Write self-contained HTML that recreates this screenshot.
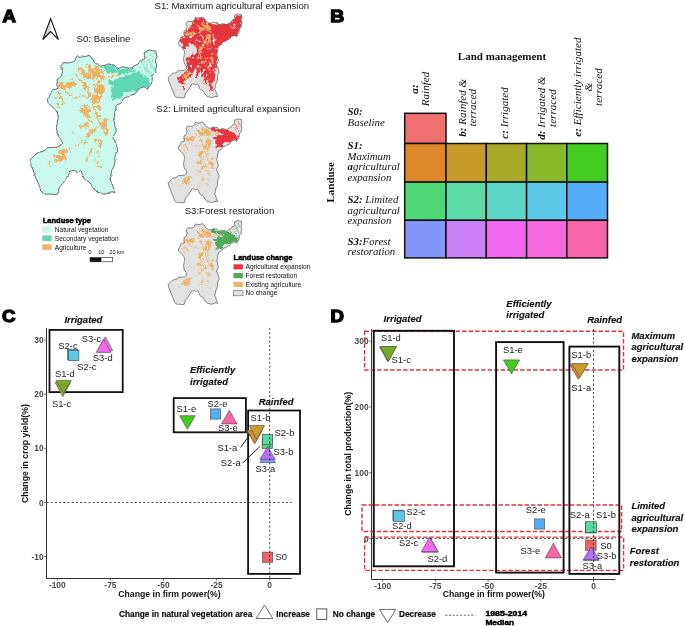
<!DOCTYPE html>
<html lang="en">
<head>
<meta charset="utf-8">
<title>Land use and land management scenarios</title>
<style>
html,body{margin:0;padding:0;background:#fff;}
body{width:685px;height:626px;overflow:hidden;}
svg{display:block;}
text{font-family:"Liberation Sans", Arial, Helvetica, sans-serif;}
.ser, .ser text{font-family:"Liberation Serif", "Times New Roman", Times, serif;}
.pl{font-weight:900;font-size:16.6px;fill:#000;stroke:#000;stroke-width:1.3px;stroke-linejoin:miter;}
.mt{font-size:9.6px;fill:#1a1a1a;}
.lg{font-size:6.6px;fill:#111;}
.lgt{font-size:6.9px;font-weight:bold;fill:#000;stroke:#000;stroke-width:.45px;}
.lab{font-size:9.4px;fill:#242424;}
.tick{font-size:8.4px;font-weight:bold;fill:#4a4a4a;}
.axt{font-size:8.7px;font-weight:bold;fill:#111;}
.grp{font-size:9.5px;font-weight:bold;font-style:italic;fill:#111;stroke:#111;stroke-width:.15px;}
.leg{font-size:8.3px;font-weight:bold;fill:#111;}
</style>
</head>
<body>
<svg width="685" height="626" viewBox="0 0 685 626">
<defs>
<filter id="rough" x="-5%" y="-5%" width="110%" height="110%">
<feTurbulence type="fractalNoise" baseFrequency="0.3" numOctaves="3" seed="7" result="n"/>
<feDisplacementMap in="SourceGraphic" in2="n" scale="5" xChannelSelector="R" yChannelSelector="G"/>
</filter>
<filter id="rough2" x="-5%" y="-5%" width="110%" height="110%">
<feTurbulence type="fractalNoise" baseFrequency="0.3" numOctaves="3" seed="3" result="n"/>
<feColorMatrix in="n" type="matrix" values="0 0 0 0 0  0 0 0 0 0  0 0 0 0 0  0 12 0 0 -3.5" result="mask"/>
<feDisplacementMap in="SourceGraphic" in2="n" scale="5" xChannelSelector="R" yChannelSelector="B" result="d"/>
<feComposite in="d" in2="mask" operator="in"/>
</filter>
<filter id="rough3" x="-5%" y="-5%" width="110%" height="110%">
<feTurbulence type="fractalNoise" baseFrequency="0.38" numOctaves="3" seed="11" result="n"/>
<feColorMatrix in="n" type="matrix" values="0 0 0 0 0  0 0 0 0 0  0 0 0 0 0  0 0 16 0 -5.6" result="mask"/>
<feDisplacementMap in="SourceGraphic" in2="n" scale="6" xChannelSelector="R" yChannelSelector="G" result="d"/>
<feComposite in="d" in2="mask" operator="in"/>
</filter>
<filter id="srough" x="-5%" y="-5%" width="110%" height="110%">
<feTurbulence type="fractalNoise" baseFrequency="0.2" numOctaves="3" seed="7" result="n"/>
<feDisplacementMap in="SourceGraphic" in2="n" scale="7" xChannelSelector="R" yChannelSelector="G"/>
</filter>
<filter id="srough2" x="-5%" y="-5%" width="110%" height="110%">
<feTurbulence type="fractalNoise" baseFrequency="0.2" numOctaves="3" seed="3" result="n"/>
<feColorMatrix in="n" type="matrix" values="0 0 0 0 0  0 0 0 0 0  0 0 0 0 0  0 12 0 0 -3.6" result="mask"/>
<feDisplacementMap in="SourceGraphic" in2="n" scale="7" xChannelSelector="R" yChannelSelector="B" result="d"/>
<feComposite in="d" in2="mask" operator="in"/>
</filter>
<filter id="srough3" x="-5%" y="-5%" width="110%" height="110%">
<feTurbulence type="fractalNoise" baseFrequency="0.16" numOctaves="4" seed="11" result="n"/>
<feColorMatrix in="n" type="matrix" values="0 0 0 0 0  0 0 0 0 0  0 0 0 0 0  0 0 14 0 -4.0" result="mask"/>
<feDisplacementMap in="SourceGraphic" in2="n" scale="9" xChannelSelector="R" yChannelSelector="G" result="d"/>
<feComposite in="d" in2="mask" operator="in"/>
</filter>
<filter id="jag" x="-3%" y="-3%" width="106%" height="106%">
<feTurbulence type="fractalNoise" baseFrequency="0.28" numOctaves="2" seed="21" result="n"/>
<feDisplacementMap in="SourceGraphic" in2="n" scale="2.2" xChannelSelector="R" yChannelSelector="G"/>
</filter>
<clipPath id="shape"><polygon points="77.2,55.5 79.0,57.3 81.4,57.1 85.0,56.6 89.3,55.3 91.0,57.6 92.9,58.9 93.8,61.5 95.3,63.2 97.5,64.2 100.1,66.2 104.0,65.6 108.6,63.8 111.0,64.8 114.1,65.0 116.5,67.3 119.0,68.6 121.5,67.0 124.4,66.8 128.0,67.9 131.7,68.0 135.0,65.6 138.4,63.8 139.6,61.5 141.4,60.1 143.6,59.6 145.1,58.3 144.1,55.0 144.4,52.2 146.8,51.4 149.3,49.8 152.6,50.8 156.0,51.0 156.2,54.0 157.0,56.5 155.8,59.0 155.4,61.4 156.5,63.8 156.6,66.2 155.7,69.4 156.0,72.3 153.8,73.8 152.3,75.9 152.2,80.3 151.1,84.4 149.0,86.5 147.5,89.3 145.6,87.5 143.8,86.8 141.2,88.0 139.0,88.1 137.5,91.0 135.3,93.5 132.0,94.6 129.3,96.6 126.0,97.3 123.2,99.0 122.1,101.6 120.2,103.8 117.8,104.3 115.9,105.7 115.9,109.0 114.7,112.3 114.6,116.0 113.5,120.0 114.8,123.0 114.7,126.1 116.2,129.0 116.0,132.1 114.0,135.0 112.9,138.2 115.0,141.0 116.0,144.3 117.4,148.0 117.5,151.6 115.6,154.4 114.7,157.6 115.0,162.0 114.1,166.1 112.2,169.6 111.1,173.4 111.0,176.6 109.9,179.5 111.9,183.0 112.9,186.8 114.4,189.6 114.7,192.8 112.4,191.8 109.9,192.2 106.6,193.7 103.2,194.1 100.4,192.6 97.7,192.8 95.2,189.8 92.3,187.4 91.2,184.4 89.2,181.9 86.3,180.6 83.8,178.3 83.2,175.6 82.0,173.4 81.4,171.4 80.2,170.4 78.6,172.2 77.2,172.8 75.8,171.0 74.1,170.4 71.8,170.6 69.9,171.6 68.6,174.6 66.8,177.1 65.2,180.3 63.2,183.1 60.8,185.3 59.0,188.0 58.8,191.3 57.7,194.1 53.5,194.7 49.8,194.0 46.2,194.3 43.2,193.0 40.7,191.0 39.8,187.0 38.3,183.1 36.0,178.4 34.1,173.4 32.9,169.6 31.0,166.1 30.8,163.0 29.8,160.1 31.8,158.0 33.5,156.4 36.0,154.0 38.9,152.2 42.0,151.6 45.0,150.3 46.2,148.6 48.0,147.3 50.0,147.8 52.3,147.3 55.4,147.4 58.3,146.7 60.2,145.5 61.4,143.7 61.6,141.4 60.8,139.4 58.7,136.6 57.1,133.4 56.9,130.3 56.2,127.3 57.2,123.6 57.5,120.0 58.3,118.4 58.0,115.2 57.1,112.3 55.8,110.2 54.1,108.7 51.0,105.8 48.0,102.6 47.5,100.8 47.7,99.0 49.3,96.7 50.5,94.1 51.4,91.6 52.9,89.5 55.6,89.2 58.3,88.1 57.2,86.4 56.8,84.4 57.3,82.0 57.1,79.6 59.6,77.9 61.7,75.9 61.9,73.4 62.6,71.1 61.2,68.8 60.8,66.2 62.1,64.2 63.8,62.6 67.7,62.9 71.7,62.3 73.7,61.4 75.3,60.1 76.0,57.7"/></clipPath>
<g id="ag">

<polygon points="77.9,66.9 82.2,67.5 85.2,73.0 91.3,74.2 94.3,79.1 90.1,79.7 85.2,77.9 81.0,74.2 78.5,70.0"/>
<polygon points="87.0,65.1 90.1,64.5 93.1,69.4 96.1,65.7 99.8,69.4 103.4,71.8 104.0,76.6 101.0,79.1 98.0,77.2 94.9,77.9 91.9,74.2 88.8,71.8 86.4,68.1"/>
<polygon points="57.3,84.5 60.9,82.1 65.8,83.3 69.4,81.5 71.9,79.1 74.9,82.1 74.9,86.3 70.6,87.6 65.8,88.2 62.1,88.8 59.1,87.0"/>
<polygon points="96.1,86.3 101.0,84.5 104.0,86.3 103.4,92.4 101.6,96.1 101.0,99.7 98.6,103.3 94.9,103.9 92.5,100.9 91.9,96.7 94.3,93.6 94.9,90.0"/>
<polygon points="81.0,109.4 85.2,104.6 88.8,104.6 89.5,109.4 87.6,113.1 90.1,116.7 86.4,117.9 82.8,115.5"/>
<polygon points="82.8,123.4 87.6,122.2 88.8,127.0 85.2,128.2"/>
<polygon points="102.2,120.3 107.1,119.1 106.4,125.2 107.1,132.0 103.4,128.8"/>
<polygon points="86.2,137.0 88.0,132.1 92.3,129.7 96.5,126.1 98.3,127.3 94.1,132.1 91.1,134.6 88.6,137.6"/>
<polygon points="102.6,122.4 106.2,123.6 108.1,130.9 106.8,135.8 104.4,133.4 103.2,127.3"/>
<polygon points="53.5,156.4 57.1,155.2 59.0,151.6 63.2,149.1 66.8,148.5 67.5,152.8 65.6,156.4 66.2,160.1 62.0,160.1 58.3,162.5 55.3,162.5"/>
<polygon points="78.9,125.5 82.0,124.6 83.8,126.6 82.2,128.7 79.6,128.0"/>
<polygon points="83.8,140.0 86.2,140.3 86.4,142.6 84.3,143.2"/>
<polygon points="94.1,138.6 97.5,138.2 97.7,141.4 95.2,143.0"/>
<polygon points="99.3,138.2 101.4,139.4 101.8,144.0 100.6,148.0 98.9,146.4 99.5,142.0"/>
<polygon points="96.5,151.0 98.4,151.6 99.6,156.4 97.8,155.8"/>
<polygon points="88.3,96.4 92.0,94.5 93.0,98.0 90.0,99.2"/>
<polygon points="83.0,84.0 87.0,83.0 88.5,87.5 85.5,89.5 83.4,87.5"/>
<polygon points="96.5,106.0 100.5,105.4 100.8,109.6 97.8,110.0"/>
<polyline points="86.4,85.1 90.1,96.1 92.5,104.6 96.1,113.1 98.6,121.6 103.4,128.8" fill="none" stroke-width="1.6" stroke-linecap="round" stroke-linejoin="round"/>
<polyline points="90.1,97.3 80.3,96.7 73.1,97.3 68.2,93.6" fill="none" stroke-width="1.0" stroke-linecap="round" stroke-linejoin="round"/>
<polyline points="104.0,78.5 113.1,76.0 119.2,75.4" fill="none" stroke-width="1.3" stroke-linecap="round" stroke-linejoin="round"/>
<polyline points="109.5,71.8 113.1,75.4" fill="none" stroke-width="1.2" stroke-linecap="round" stroke-linejoin="round"/>
<polyline points="54.9,98.5 58.5,97.3 62.2,98.0 63.4,102.1 61.0,104.6" fill="none" stroke-width="1.6" stroke-linecap="round" stroke-linejoin="round"/>
<polyline points="57.0,104.5 59.3,107.8" fill="none" stroke-width="1.4" stroke-linecap="round" stroke-linejoin="round"/>
<polyline points="57.3,92.4 60.9,94.5" fill="none" stroke-width="1.8" stroke-linecap="round" stroke-linejoin="round"/>
<polyline points="65.8,91.2 69.4,93.6" fill="none" stroke-width="1.6" stroke-linecap="round" stroke-linejoin="round"/>
<polyline points="86.2,161.3 89.0,155.0 92.3,148.0" fill="none" stroke-width="1.5" stroke-linecap="round" stroke-linejoin="round"/>
<polyline points="75.3,146.1 80.7,143.0" fill="none" stroke-width="1.0" stroke-linecap="round" stroke-linejoin="round"/>
<polyline points="69.5,147.3 70.4,151.6" fill="none" stroke-width="1.0" stroke-linecap="round" stroke-linejoin="round"/>
<polyline points="72.2,130.3 73.5,134.0" fill="none" stroke-width="1.0" stroke-linecap="round" stroke-linejoin="round"/>
<polyline points="95.3,160.0 97.7,163.7" fill="none" stroke-width="1.2" stroke-linecap="round" stroke-linejoin="round"/>
<polyline points="97.1,166.3 101.4,166.5" fill="none" stroke-width="1.2" stroke-linecap="round" stroke-linejoin="round"/>
<polyline points="47.4,161.3 49.3,163.5 50.5,166.7" fill="none" stroke-width="1.0" stroke-linecap="round" stroke-linejoin="round"/>
<polyline points="79.0,137.7 83.5,138.4" fill="none" stroke-width="0.9" stroke-linecap="round" stroke-linejoin="round"/>
<polyline points="96.5,113.0 100.0,117.5" fill="none" stroke-width="1.6" stroke-linecap="round" stroke-linejoin="round"/>
<polyline points="88.0,119.5 92.5,123.0" fill="none" stroke-width="1.3" stroke-linecap="round" stroke-linejoin="round"/>
<polyline points="100.5,80.5 97.0,86.0" fill="none" stroke-width="1.8" stroke-linecap="round" stroke-linejoin="round"/>
<polyline points="78.0,78.0 83.0,82.5" fill="none" stroke-width="1.5" stroke-linecap="round" stroke-linejoin="round"/>
<polyline points="75.5,74.5 77.4,77.0" fill="none" stroke-width="1.2" stroke-linecap="round" stroke-linejoin="round"/>
</g>
</defs>
<rect width="100%" height="100%" fill="#fff"/>

<!-- Panel A : maps -->
<text class="pl" transform="translate(2.4,22.0) scale(1.12,1)">A</text>
<polygon points="50.6,18.6 42.8,39.5 50.6,31.5" fill="#d4d4d4"/><polygon points="50.6,18.6 42.8,39.5 50.6,31.5 58.5,39.5" fill="none" stroke="#111" stroke-width="1.1" stroke-linejoin="miter"/>
<text class="mt" x="76.6" y="42.2">S0: Baseline</text>
<text class="mt" x="154.5" y="9.0">S1: Maximum agricultural expansion</text>
<text class="mt" x="156.3" y="111.8">S2: Limited agricultural expansion</text>
<text class="mt" x="184.7" y="214.2">S3:Forest restoration</text>
<g filter="url(#jag)">
<polygon points="77.2,55.5 79.0,57.3 81.4,57.1 85.0,56.6 89.3,55.3 91.0,57.6 92.9,58.9 93.8,61.5 95.3,63.2 97.5,64.2 100.1,66.2 104.0,65.6 108.6,63.8 111.0,64.8 114.1,65.0 116.5,67.3 119.0,68.6 121.5,67.0 124.4,66.8 128.0,67.9 131.7,68.0 135.0,65.6 138.4,63.8 139.6,61.5 141.4,60.1 143.6,59.6 145.1,58.3 144.1,55.0 144.4,52.2 146.8,51.4 149.3,49.8 152.6,50.8 156.0,51.0 156.2,54.0 157.0,56.5 155.8,59.0 155.4,61.4 156.5,63.8 156.6,66.2 155.7,69.4 156.0,72.3 153.8,73.8 152.3,75.9 152.2,80.3 151.1,84.4 149.0,86.5 147.5,89.3 145.6,87.5 143.8,86.8 141.2,88.0 139.0,88.1 137.5,91.0 135.3,93.5 132.0,94.6 129.3,96.6 126.0,97.3 123.2,99.0 122.1,101.6 120.2,103.8 117.8,104.3 115.9,105.7 115.9,109.0 114.7,112.3 114.6,116.0 113.5,120.0 114.8,123.0 114.7,126.1 116.2,129.0 116.0,132.1 114.0,135.0 112.9,138.2 115.0,141.0 116.0,144.3 117.4,148.0 117.5,151.6 115.6,154.4 114.7,157.6 115.0,162.0 114.1,166.1 112.2,169.6 111.1,173.4 111.0,176.6 109.9,179.5 111.9,183.0 112.9,186.8 114.4,189.6 114.7,192.8 112.4,191.8 109.9,192.2 106.6,193.7 103.2,194.1 100.4,192.6 97.7,192.8 95.2,189.8 92.3,187.4 91.2,184.4 89.2,181.9 86.3,180.6 83.8,178.3 83.2,175.6 82.0,173.4 81.4,171.4 80.2,170.4 78.6,172.2 77.2,172.8 75.8,171.0 74.1,170.4 71.8,170.6 69.9,171.6 68.6,174.6 66.8,177.1 65.2,180.3 63.2,183.1 60.8,185.3 59.0,188.0 58.8,191.3 57.7,194.1 53.5,194.7 49.8,194.0 46.2,194.3 43.2,193.0 40.7,191.0 39.8,187.0 38.3,183.1 36.0,178.4 34.1,173.4 32.9,169.6 31.0,166.1 30.8,163.0 29.8,160.1 31.8,158.0 33.5,156.4 36.0,154.0 38.9,152.2 42.0,151.6 45.0,150.3 46.2,148.6 48.0,147.3 50.0,147.8 52.3,147.3 55.4,147.4 58.3,146.7 60.2,145.5 61.4,143.7 61.6,141.4 60.8,139.4 58.7,136.6 57.1,133.4 56.9,130.3 56.2,127.3 57.2,123.6 57.5,120.0 58.3,118.4 58.0,115.2 57.1,112.3 55.8,110.2 54.1,108.7 51.0,105.8 48.0,102.6 47.5,100.8 47.7,99.0 49.3,96.7 50.5,94.1 51.4,91.6 52.9,89.5 55.6,89.2 58.3,88.1 57.2,86.4 56.8,84.4 57.3,82.0 57.1,79.6 59.6,77.9 61.7,75.9 61.9,73.4 62.6,71.1 61.2,68.8 60.8,66.2 62.1,64.2 63.8,62.6 67.7,62.9 71.7,62.3 73.7,61.4 75.3,60.1 76.0,57.7" fill="#cbf8ec"/>
<g clip-path="url(#shape)">
<g filter="url(#rough)"><polygon points="101.5,67.5 104.0,66.3 108.6,64.6 114.1,65.8 119.0,69.4 124.4,67.6 131.7,68.8 134.1,70.5 137.5,70.8 140.2,72.3 142.5,75.2 143.8,75.9 146.5,76.5 148.7,78.3 149.7,81.0 150.5,83.2 149.0,86.0 147.5,88.7 145.5,87.0 143.8,86.2 141.0,87.5 139.0,87.5 137.0,90.6 135.3,92.7 134.1,90.5 131.0,90.4 128.0,91.7 125.2,92.2 123.2,94.1 122.4,96.8 120.8,99.0 118.2,98.2 115.9,99.0 113.9,99.4 111.7,101.4 111.6,97.6 112.3,94.1 111.2,91.6 111.0,89.3 112.1,87.0 114.1,85.6 110.8,85.3 107.4,83.8 109.6,81.4 112.3,79.6 116.0,78.4 119.6,76.5 124.0,75.6 128.0,73.5 123.0,74.6 118.3,74.1 115.0,72.5 112.3,72.3 109.2,72.6 106.2,71.7 103.5,69.8" fill="#5fd7b4"/>
<g stroke="#5fd7b4" stroke-width="0.8" fill="none" opacity="0.8"><path d="M141.5,63.5 L148,73 M144,62 L151.5,74.5 M148,58 L154,70 M150.5,54 L153,63 M146,66 L150,77 M139,66 L144,74"/></g>
</g>
<g filter="url(#rough)"><polygon points="110.5,77.6 116,75.6 122,74.6 128.5,72.4 135,71.6 138,72.4 131,74.6 125,76.6 119,78.2 112.5,80.4" fill="#cbf8ec"/></g>
<g filter="url(#rough2)"><use href="#ag" fill="#eeb362" stroke="#eeb362" stroke-width="0.7"/></g>
</g>
<polygon points="77.2,55.5 79.0,57.3 81.4,57.1 85.0,56.6 89.3,55.3 91.0,57.6 92.9,58.9 93.8,61.5 95.3,63.2 97.5,64.2 100.1,66.2 104.0,65.6 108.6,63.8 111.0,64.8 114.1,65.0 116.5,67.3 119.0,68.6 121.5,67.0 124.4,66.8 128.0,67.9 131.7,68.0 135.0,65.6 138.4,63.8 139.6,61.5 141.4,60.1 143.6,59.6 145.1,58.3 144.1,55.0 144.4,52.2 146.8,51.4 149.3,49.8 152.6,50.8 156.0,51.0 156.2,54.0 157.0,56.5 155.8,59.0 155.4,61.4 156.5,63.8 156.6,66.2 155.7,69.4 156.0,72.3 153.8,73.8 152.3,75.9 152.2,80.3 151.1,84.4 149.0,86.5 147.5,89.3 145.6,87.5 143.8,86.8 141.2,88.0 139.0,88.1 137.5,91.0 135.3,93.5 132.0,94.6 129.3,96.6 126.0,97.3 123.2,99.0 122.1,101.6 120.2,103.8 117.8,104.3 115.9,105.7 115.9,109.0 114.7,112.3 114.6,116.0 113.5,120.0 114.8,123.0 114.7,126.1 116.2,129.0 116.0,132.1 114.0,135.0 112.9,138.2 115.0,141.0 116.0,144.3 117.4,148.0 117.5,151.6 115.6,154.4 114.7,157.6 115.0,162.0 114.1,166.1 112.2,169.6 111.1,173.4 111.0,176.6 109.9,179.5 111.9,183.0 112.9,186.8 114.4,189.6 114.7,192.8 112.4,191.8 109.9,192.2 106.6,193.7 103.2,194.1 100.4,192.6 97.7,192.8 95.2,189.8 92.3,187.4 91.2,184.4 89.2,181.9 86.3,180.6 83.8,178.3 83.2,175.6 82.0,173.4 81.4,171.4 80.2,170.4 78.6,172.2 77.2,172.8 75.8,171.0 74.1,170.4 71.8,170.6 69.9,171.6 68.6,174.6 66.8,177.1 65.2,180.3 63.2,183.1 60.8,185.3 59.0,188.0 58.8,191.3 57.7,194.1 53.5,194.7 49.8,194.0 46.2,194.3 43.2,193.0 40.7,191.0 39.8,187.0 38.3,183.1 36.0,178.4 34.1,173.4 32.9,169.6 31.0,166.1 30.8,163.0 29.8,160.1 31.8,158.0 33.5,156.4 36.0,154.0 38.9,152.2 42.0,151.6 45.0,150.3 46.2,148.6 48.0,147.3 50.0,147.8 52.3,147.3 55.4,147.4 58.3,146.7 60.2,145.5 61.4,143.7 61.6,141.4 60.8,139.4 58.7,136.6 57.1,133.4 56.9,130.3 56.2,127.3 57.2,123.6 57.5,120.0 58.3,118.4 58.0,115.2 57.1,112.3 55.8,110.2 54.1,108.7 51.0,105.8 48.0,102.6 47.5,100.8 47.7,99.0 49.3,96.7 50.5,94.1 51.4,91.6 52.9,89.5 55.6,89.2 58.3,88.1 57.2,86.4 56.8,84.4 57.3,82.0 57.1,79.6 59.6,77.9 61.7,75.9 61.9,73.4 62.6,71.1 61.2,68.8 60.8,66.2 62.1,64.2 63.8,62.6 67.7,62.9 71.7,62.3 73.7,61.4 75.3,60.1 76.0,57.7" fill="none" stroke="#3f4a4a" stroke-width="0.8" stroke-linejoin="round"/>
</g>
<g transform="translate(150.79,-15.13) scale(0.581)">
<polygon points="77.2,55.5 79.0,57.3 81.4,57.1 85.0,56.6 89.3,55.3 91.0,57.6 92.9,58.9 93.8,61.5 95.3,63.2 97.5,64.2 100.1,66.2 104.0,65.6 108.6,63.8 111.0,64.8 114.1,65.0 116.5,67.3 119.0,68.6 121.5,67.0 124.4,66.8 128.0,67.9 131.7,68.0 135.0,65.6 138.4,63.8 139.6,61.5 141.4,60.1 143.6,59.6 145.1,58.3 144.1,55.0 144.4,52.2 146.8,51.4 149.3,49.8 152.6,50.8 156.0,51.0 156.2,54.0 157.0,56.5 155.8,59.0 155.4,61.4 156.5,63.8 156.6,66.2 155.7,69.4 156.0,72.3 153.8,73.8 152.3,75.9 152.2,80.3 151.1,84.4 149.0,86.5 147.5,89.3 145.6,87.5 143.8,86.8 141.2,88.0 139.0,88.1 137.5,91.0 135.3,93.5 132.0,94.6 129.3,96.6 126.0,97.3 123.2,99.0 122.1,101.6 120.2,103.8 117.8,104.3 115.9,105.7 115.9,109.0 114.7,112.3 114.6,116.0 113.5,120.0 114.8,123.0 114.7,126.1 116.2,129.0 116.0,132.1 114.0,135.0 112.9,138.2 115.0,141.0 116.0,144.3 117.4,148.0 117.5,151.6 115.6,154.4 114.7,157.6 115.0,162.0 114.1,166.1 112.2,169.6 111.1,173.4 111.0,176.6 109.9,179.5 111.9,183.0 112.9,186.8 114.4,189.6 114.7,192.8 112.4,191.8 109.9,192.2 106.6,193.7 103.2,194.1 100.4,192.6 97.7,192.8 95.2,189.8 92.3,187.4 91.2,184.4 89.2,181.9 86.3,180.6 83.8,178.3 83.2,175.6 82.0,173.4 81.4,171.4 80.2,170.4 78.6,172.2 77.2,172.8 75.8,171.0 74.1,170.4 71.8,170.6 69.9,171.6 68.6,174.6 66.8,177.1 65.2,180.3 63.2,183.1 60.8,185.3 59.0,188.0 58.8,191.3 57.7,194.1 53.5,194.7 49.8,194.0 46.2,194.3 43.2,193.0 40.7,191.0 39.8,187.0 38.3,183.1 36.0,178.4 34.1,173.4 32.9,169.6 31.0,166.1 30.8,163.0 29.8,160.1 31.8,158.0 33.5,156.4 36.0,154.0 38.9,152.2 42.0,151.6 45.0,150.3 46.2,148.6 48.0,147.3 50.0,147.8 52.3,147.3 55.4,147.4 58.3,146.7 60.2,145.5 61.4,143.7 61.6,141.4 60.8,139.4 58.7,136.6 57.1,133.4 56.9,130.3 56.2,127.3 57.2,123.6 57.5,120.0 58.3,118.4 58.0,115.2 57.1,112.3 55.8,110.2 54.1,108.7 51.0,105.8 48.0,102.6 47.5,100.8 47.7,99.0 49.3,96.7 50.5,94.1 51.4,91.6 52.9,89.5 55.6,89.2 58.3,88.1 57.2,86.4 56.8,84.4 57.3,82.0 57.1,79.6 59.6,77.9 61.7,75.9 61.9,73.4 62.6,71.1 61.2,68.8 60.8,66.2 62.1,64.2 63.8,62.6 67.7,62.9 71.7,62.3 73.7,61.4 75.3,60.1 76.0,57.7" fill="#e2e2e2"/>
<g clip-path="url(#shape)">
<g filter="url(#srough3)"><polygon points="76.4,55.9 85.2,57.2 92.8,58.4 97.9,64.8 108.0,68.6 120.6,67.3 133.3,66.0 140.9,61.0 146.0,53.4 156.1,52.1 156.6,63.5 154.8,73.6 149.8,81.2 148.5,90.1 138.4,91.4 130.8,97.7 123.2,100.2 118.1,106.5 114.3,114.1 115.6,124.3 113.6,134.4 114.3,142.0 110.5,144.5 111.8,154.6 109.3,162.2 110.5,166.0 106.7,164.8 106.0,169.8 106.7,177.4 105.5,185.0 102.4,182.0 101.4,173.6 99.4,167.3 97.9,159.7 96.1,164.8 95.3,172.3 92.8,169.8 92.3,162.2 90.8,154.6 89.0,159.7 87.0,155.9 86.0,147.0 83.9,143.2 82.2,152.1 80.7,161.0 78.1,158.4 78.1,149.6 76.4,144.5 73.8,148.3 71.3,154.6 67.0,161.0 62.4,160.2 58.6,166.0 56.9,173.6 57.9,182.5 54.3,177.9 51.8,170.3 46.7,167.8 43.4,165.3 49.3,161.2 54.8,155.1 59.9,150.1 63.7,144.5 62.4,136.9 59.9,129.3 62.4,124.3 68.8,123.0 75.1,119.2 78.9,111.6 75.1,104.0 68.8,101.0 62.4,105.3 59.9,111.6 54.8,106.5 52.3,100.2 49.8,93.9 54.8,88.8 57.4,81.2 62.4,76.2 67.5,71.1 72.6,63.5" fill="#e8363c"/></g>
<g filter="url(#srough)"><polygon points="100.4,71.1 120.6,68.6 133.3,67.3 141.4,62.2 146.5,54.6 155.6,53.4 155.6,66.0 153.6,74.9 149.0,81.2 147.5,88.8 138.4,90.1 130.8,96.4 123.2,98.9 118.6,104.0 113.1,101.5 110.5,88.8 102.9,81.2" fill="#e8363c"/></g>
<g filter="url(#srough)" stroke="#ecd9d9" fill="none" stroke-width="1.8" stroke-linecap="round">
<polyline points="89.0,88.8 91.5,97.7 90.8,107.8"/>
<polyline points="106.7,86.3 109.3,93.9 108.0,102.7"/>
<polyline points="70.0,106.5 75.1,112.9 73.8,120.5"/>
<polyline points="62.4,67.3 68.8,64.8"/>
<polyline points="83.9,116.7 86.5,124.3"/>
<polyline points="100.4,139.4 101.7,149.6"/>
<polyline points="111.8,143.2 113.1,157.2"/>
<polyline points="142.2,67.3 147.2,72.4"/>
<polyline points="135.8,71.1 143.4,74.9"/>
</g>
<g filter="url(#srough2)"><use href="#ag" fill="#eeb362" opacity="0.9"/></g>
</g>
<polygon points="77.2,55.5 79.0,57.3 81.4,57.1 85.0,56.6 89.3,55.3 91.0,57.6 92.9,58.9 93.8,61.5 95.3,63.2 97.5,64.2 100.1,66.2 104.0,65.6 108.6,63.8 111.0,64.8 114.1,65.0 116.5,67.3 119.0,68.6 121.5,67.0 124.4,66.8 128.0,67.9 131.7,68.0 135.0,65.6 138.4,63.8 139.6,61.5 141.4,60.1 143.6,59.6 145.1,58.3 144.1,55.0 144.4,52.2 146.8,51.4 149.3,49.8 152.6,50.8 156.0,51.0 156.2,54.0 157.0,56.5 155.8,59.0 155.4,61.4 156.5,63.8 156.6,66.2 155.7,69.4 156.0,72.3 153.8,73.8 152.3,75.9 152.2,80.3 151.1,84.4 149.0,86.5 147.5,89.3 145.6,87.5 143.8,86.8 141.2,88.0 139.0,88.1 137.5,91.0 135.3,93.5 132.0,94.6 129.3,96.6 126.0,97.3 123.2,99.0 122.1,101.6 120.2,103.8 117.8,104.3 115.9,105.7 115.9,109.0 114.7,112.3 114.6,116.0 113.5,120.0 114.8,123.0 114.7,126.1 116.2,129.0 116.0,132.1 114.0,135.0 112.9,138.2 115.0,141.0 116.0,144.3 117.4,148.0 117.5,151.6 115.6,154.4 114.7,157.6 115.0,162.0 114.1,166.1 112.2,169.6 111.1,173.4 111.0,176.6 109.9,179.5 111.9,183.0 112.9,186.8 114.4,189.6 114.7,192.8 112.4,191.8 109.9,192.2 106.6,193.7 103.2,194.1 100.4,192.6 97.7,192.8 95.2,189.8 92.3,187.4 91.2,184.4 89.2,181.9 86.3,180.6 83.8,178.3 83.2,175.6 82.0,173.4 81.4,171.4 80.2,170.4 78.6,172.2 77.2,172.8 75.8,171.0 74.1,170.4 71.8,170.6 69.9,171.6 68.6,174.6 66.8,177.1 65.2,180.3 63.2,183.1 60.8,185.3 59.0,188.0 58.8,191.3 57.7,194.1 53.5,194.7 49.8,194.0 46.2,194.3 43.2,193.0 40.7,191.0 39.8,187.0 38.3,183.1 36.0,178.4 34.1,173.4 32.9,169.6 31.0,166.1 30.8,163.0 29.8,160.1 31.8,158.0 33.5,156.4 36.0,154.0 38.9,152.2 42.0,151.6 45.0,150.3 46.2,148.6 48.0,147.3 50.0,147.8 52.3,147.3 55.4,147.4 58.3,146.7 60.2,145.5 61.4,143.7 61.6,141.4 60.8,139.4 58.7,136.6 57.1,133.4 56.9,130.3 56.2,127.3 57.2,123.6 57.5,120.0 58.3,118.4 58.0,115.2 57.1,112.3 55.8,110.2 54.1,108.7 51.0,105.8 48.0,102.6 47.5,100.8 47.7,99.0 49.3,96.7 50.5,94.1 51.4,91.6 52.9,89.5 55.6,89.2 58.3,88.1 57.2,86.4 56.8,84.4 57.3,82.0 57.1,79.6 59.6,77.9 61.7,75.9 61.9,73.4 62.6,71.1 61.2,68.8 60.8,66.2 62.1,64.2 63.8,62.6 67.7,62.9 71.7,62.3 73.7,61.4 75.3,60.1 76.0,57.7" fill="none" stroke="#555" stroke-width="1.2" stroke-linejoin="round"/>
</g>
<g transform="translate(150.79,89.77) scale(0.581)">
<polygon points="77.2,55.5 79.0,57.3 81.4,57.1 85.0,56.6 89.3,55.3 91.0,57.6 92.9,58.9 93.8,61.5 95.3,63.2 97.5,64.2 100.1,66.2 104.0,65.6 108.6,63.8 111.0,64.8 114.1,65.0 116.5,67.3 119.0,68.6 121.5,67.0 124.4,66.8 128.0,67.9 131.7,68.0 135.0,65.6 138.4,63.8 139.6,61.5 141.4,60.1 143.6,59.6 145.1,58.3 144.1,55.0 144.4,52.2 146.8,51.4 149.3,49.8 152.6,50.8 156.0,51.0 156.2,54.0 157.0,56.5 155.8,59.0 155.4,61.4 156.5,63.8 156.6,66.2 155.7,69.4 156.0,72.3 153.8,73.8 152.3,75.9 152.2,80.3 151.1,84.4 149.0,86.5 147.5,89.3 145.6,87.5 143.8,86.8 141.2,88.0 139.0,88.1 137.5,91.0 135.3,93.5 132.0,94.6 129.3,96.6 126.0,97.3 123.2,99.0 122.1,101.6 120.2,103.8 117.8,104.3 115.9,105.7 115.9,109.0 114.7,112.3 114.6,116.0 113.5,120.0 114.8,123.0 114.7,126.1 116.2,129.0 116.0,132.1 114.0,135.0 112.9,138.2 115.0,141.0 116.0,144.3 117.4,148.0 117.5,151.6 115.6,154.4 114.7,157.6 115.0,162.0 114.1,166.1 112.2,169.6 111.1,173.4 111.0,176.6 109.9,179.5 111.9,183.0 112.9,186.8 114.4,189.6 114.7,192.8 112.4,191.8 109.9,192.2 106.6,193.7 103.2,194.1 100.4,192.6 97.7,192.8 95.2,189.8 92.3,187.4 91.2,184.4 89.2,181.9 86.3,180.6 83.8,178.3 83.2,175.6 82.0,173.4 81.4,171.4 80.2,170.4 78.6,172.2 77.2,172.8 75.8,171.0 74.1,170.4 71.8,170.6 69.9,171.6 68.6,174.6 66.8,177.1 65.2,180.3 63.2,183.1 60.8,185.3 59.0,188.0 58.8,191.3 57.7,194.1 53.5,194.7 49.8,194.0 46.2,194.3 43.2,193.0 40.7,191.0 39.8,187.0 38.3,183.1 36.0,178.4 34.1,173.4 32.9,169.6 31.0,166.1 30.8,163.0 29.8,160.1 31.8,158.0 33.5,156.4 36.0,154.0 38.9,152.2 42.0,151.6 45.0,150.3 46.2,148.6 48.0,147.3 50.0,147.8 52.3,147.3 55.4,147.4 58.3,146.7 60.2,145.5 61.4,143.7 61.6,141.4 60.8,139.4 58.7,136.6 57.1,133.4 56.9,130.3 56.2,127.3 57.2,123.6 57.5,120.0 58.3,118.4 58.0,115.2 57.1,112.3 55.8,110.2 54.1,108.7 51.0,105.8 48.0,102.6 47.5,100.8 47.7,99.0 49.3,96.7 50.5,94.1 51.4,91.6 52.9,89.5 55.6,89.2 58.3,88.1 57.2,86.4 56.8,84.4 57.3,82.0 57.1,79.6 59.6,77.9 61.7,75.9 61.9,73.4 62.6,71.1 61.2,68.8 60.8,66.2 62.1,64.2 63.8,62.6 67.7,62.9 71.7,62.3 73.7,61.4 75.3,60.1 76.0,57.7" fill="#e2e2e2"/>
<g clip-path="url(#shape)">
<g filter="url(#srough)"><polygon points="101.5,67.5 104.0,66.3 108.6,64.6 114.1,65.8 119.0,69.4 124.4,67.6 131.7,68.8 134.1,70.5 137.5,70.8 140.2,72.3 142.5,75.2 143.8,75.9 146.5,76.5 148.7,78.3 149.7,81.0 150.5,83.2 149.0,86.0 147.5,88.7 145.5,87.0 143.8,86.2 141.0,87.5 139.0,87.5 137.0,90.6 135.3,92.7 134.1,90.5 131.0,90.4 128.0,91.7 125.2,92.2 123.2,94.1 122.4,96.8 120.8,99.0 118.2,98.2 115.9,99.0 113.9,99.4 111.7,101.4 111.6,97.6 112.3,94.1 111.2,91.6 111.0,89.3 112.1,87.0 114.1,85.6 110.8,85.3 107.4,83.8 109.6,81.4 112.3,79.6 116.0,78.4 119.6,76.5 124.0,75.6 128.0,73.5 123.0,74.6 118.3,74.1 115.0,72.5 112.3,72.3 109.2,72.6 106.2,71.7 103.5,69.8" fill="#e8363c"/>
<g stroke="#e8363c" stroke-width="1" fill="none"><path d="M141.5,63.5 L148,73 M146,60 L152,73 M150.5,54 L153,63"/></g></g>
<g filter="url(#srough2)"><use href="#ag" fill="#eeb362" stroke="#eeb362" stroke-width="0.6"/></g>
</g>
<polygon points="77.2,55.5 79.0,57.3 81.4,57.1 85.0,56.6 89.3,55.3 91.0,57.6 92.9,58.9 93.8,61.5 95.3,63.2 97.5,64.2 100.1,66.2 104.0,65.6 108.6,63.8 111.0,64.8 114.1,65.0 116.5,67.3 119.0,68.6 121.5,67.0 124.4,66.8 128.0,67.9 131.7,68.0 135.0,65.6 138.4,63.8 139.6,61.5 141.4,60.1 143.6,59.6 145.1,58.3 144.1,55.0 144.4,52.2 146.8,51.4 149.3,49.8 152.6,50.8 156.0,51.0 156.2,54.0 157.0,56.5 155.8,59.0 155.4,61.4 156.5,63.8 156.6,66.2 155.7,69.4 156.0,72.3 153.8,73.8 152.3,75.9 152.2,80.3 151.1,84.4 149.0,86.5 147.5,89.3 145.6,87.5 143.8,86.8 141.2,88.0 139.0,88.1 137.5,91.0 135.3,93.5 132.0,94.6 129.3,96.6 126.0,97.3 123.2,99.0 122.1,101.6 120.2,103.8 117.8,104.3 115.9,105.7 115.9,109.0 114.7,112.3 114.6,116.0 113.5,120.0 114.8,123.0 114.7,126.1 116.2,129.0 116.0,132.1 114.0,135.0 112.9,138.2 115.0,141.0 116.0,144.3 117.4,148.0 117.5,151.6 115.6,154.4 114.7,157.6 115.0,162.0 114.1,166.1 112.2,169.6 111.1,173.4 111.0,176.6 109.9,179.5 111.9,183.0 112.9,186.8 114.4,189.6 114.7,192.8 112.4,191.8 109.9,192.2 106.6,193.7 103.2,194.1 100.4,192.6 97.7,192.8 95.2,189.8 92.3,187.4 91.2,184.4 89.2,181.9 86.3,180.6 83.8,178.3 83.2,175.6 82.0,173.4 81.4,171.4 80.2,170.4 78.6,172.2 77.2,172.8 75.8,171.0 74.1,170.4 71.8,170.6 69.9,171.6 68.6,174.6 66.8,177.1 65.2,180.3 63.2,183.1 60.8,185.3 59.0,188.0 58.8,191.3 57.7,194.1 53.5,194.7 49.8,194.0 46.2,194.3 43.2,193.0 40.7,191.0 39.8,187.0 38.3,183.1 36.0,178.4 34.1,173.4 32.9,169.6 31.0,166.1 30.8,163.0 29.8,160.1 31.8,158.0 33.5,156.4 36.0,154.0 38.9,152.2 42.0,151.6 45.0,150.3 46.2,148.6 48.0,147.3 50.0,147.8 52.3,147.3 55.4,147.4 58.3,146.7 60.2,145.5 61.4,143.7 61.6,141.4 60.8,139.4 58.7,136.6 57.1,133.4 56.9,130.3 56.2,127.3 57.2,123.6 57.5,120.0 58.3,118.4 58.0,115.2 57.1,112.3 55.8,110.2 54.1,108.7 51.0,105.8 48.0,102.6 47.5,100.8 47.7,99.0 49.3,96.7 50.5,94.1 51.4,91.6 52.9,89.5 55.6,89.2 58.3,88.1 57.2,86.4 56.8,84.4 57.3,82.0 57.1,79.6 59.6,77.9 61.7,75.9 61.9,73.4 62.6,71.1 61.2,68.8 60.8,66.2 62.1,64.2 63.8,62.6 67.7,62.9 71.7,62.3 73.7,61.4 75.3,60.1 76.0,57.7" fill="none" stroke="#555" stroke-width="1.2" stroke-linejoin="round"/>
</g>
<g transform="translate(150.79,191.47) scale(0.581)">
<polygon points="77.2,55.5 79.0,57.3 81.4,57.1 85.0,56.6 89.3,55.3 91.0,57.6 92.9,58.9 93.8,61.5 95.3,63.2 97.5,64.2 100.1,66.2 104.0,65.6 108.6,63.8 111.0,64.8 114.1,65.0 116.5,67.3 119.0,68.6 121.5,67.0 124.4,66.8 128.0,67.9 131.7,68.0 135.0,65.6 138.4,63.8 139.6,61.5 141.4,60.1 143.6,59.6 145.1,58.3 144.1,55.0 144.4,52.2 146.8,51.4 149.3,49.8 152.6,50.8 156.0,51.0 156.2,54.0 157.0,56.5 155.8,59.0 155.4,61.4 156.5,63.8 156.6,66.2 155.7,69.4 156.0,72.3 153.8,73.8 152.3,75.9 152.2,80.3 151.1,84.4 149.0,86.5 147.5,89.3 145.6,87.5 143.8,86.8 141.2,88.0 139.0,88.1 137.5,91.0 135.3,93.5 132.0,94.6 129.3,96.6 126.0,97.3 123.2,99.0 122.1,101.6 120.2,103.8 117.8,104.3 115.9,105.7 115.9,109.0 114.7,112.3 114.6,116.0 113.5,120.0 114.8,123.0 114.7,126.1 116.2,129.0 116.0,132.1 114.0,135.0 112.9,138.2 115.0,141.0 116.0,144.3 117.4,148.0 117.5,151.6 115.6,154.4 114.7,157.6 115.0,162.0 114.1,166.1 112.2,169.6 111.1,173.4 111.0,176.6 109.9,179.5 111.9,183.0 112.9,186.8 114.4,189.6 114.7,192.8 112.4,191.8 109.9,192.2 106.6,193.7 103.2,194.1 100.4,192.6 97.7,192.8 95.2,189.8 92.3,187.4 91.2,184.4 89.2,181.9 86.3,180.6 83.8,178.3 83.2,175.6 82.0,173.4 81.4,171.4 80.2,170.4 78.6,172.2 77.2,172.8 75.8,171.0 74.1,170.4 71.8,170.6 69.9,171.6 68.6,174.6 66.8,177.1 65.2,180.3 63.2,183.1 60.8,185.3 59.0,188.0 58.8,191.3 57.7,194.1 53.5,194.7 49.8,194.0 46.2,194.3 43.2,193.0 40.7,191.0 39.8,187.0 38.3,183.1 36.0,178.4 34.1,173.4 32.9,169.6 31.0,166.1 30.8,163.0 29.8,160.1 31.8,158.0 33.5,156.4 36.0,154.0 38.9,152.2 42.0,151.6 45.0,150.3 46.2,148.6 48.0,147.3 50.0,147.8 52.3,147.3 55.4,147.4 58.3,146.7 60.2,145.5 61.4,143.7 61.6,141.4 60.8,139.4 58.7,136.6 57.1,133.4 56.9,130.3 56.2,127.3 57.2,123.6 57.5,120.0 58.3,118.4 58.0,115.2 57.1,112.3 55.8,110.2 54.1,108.7 51.0,105.8 48.0,102.6 47.5,100.8 47.7,99.0 49.3,96.7 50.5,94.1 51.4,91.6 52.9,89.5 55.6,89.2 58.3,88.1 57.2,86.4 56.8,84.4 57.3,82.0 57.1,79.6 59.6,77.9 61.7,75.9 61.9,73.4 62.6,71.1 61.2,68.8 60.8,66.2 62.1,64.2 63.8,62.6 67.7,62.9 71.7,62.3 73.7,61.4 75.3,60.1 76.0,57.7" fill="#e2e2e2"/>
<g clip-path="url(#shape)">
<g filter="url(#srough)"><polygon points="101.5,67.5 104.0,66.3 108.6,64.6 114.1,65.8 119.0,69.4 124.4,67.6 131.7,68.8 134.1,70.5 137.5,70.8 140.2,72.3 142.5,75.2 143.8,75.9 146.5,76.5 148.7,78.3 149.7,81.0 150.5,83.2 149.0,86.0 147.5,88.7 145.5,87.0 143.8,86.2 141.0,87.5 139.0,87.5 137.0,90.6 135.3,92.7 134.1,90.5 131.0,90.4 128.0,91.7 125.2,92.2 123.2,94.1 122.4,96.8 120.8,99.0 118.2,98.2 115.9,99.0 113.9,99.4 111.7,101.4 111.6,97.6 112.3,94.1 111.2,91.6 111.0,89.3 112.1,87.0 114.1,85.6 110.8,85.3 107.4,83.8 109.6,81.4 112.3,79.6 116.0,78.4 119.6,76.5 124.0,75.6 128.0,73.5 123.0,74.6 118.3,74.1 115.0,72.5 112.3,72.3 109.2,72.6 106.2,71.7 103.5,69.8" fill="#4fab5b"/>
<g stroke="#4fab5b" stroke-width="1" fill="none"><path d="M141.5,63.5 L148,73 M146,60 L152,73 M150.5,54 L153,63"/></g></g>
<g filter="url(#srough2)"><use href="#ag" fill="#eeb362" stroke="#eeb362" stroke-width="0.6"/></g>
</g>
<polygon points="77.2,55.5 79.0,57.3 81.4,57.1 85.0,56.6 89.3,55.3 91.0,57.6 92.9,58.9 93.8,61.5 95.3,63.2 97.5,64.2 100.1,66.2 104.0,65.6 108.6,63.8 111.0,64.8 114.1,65.0 116.5,67.3 119.0,68.6 121.5,67.0 124.4,66.8 128.0,67.9 131.7,68.0 135.0,65.6 138.4,63.8 139.6,61.5 141.4,60.1 143.6,59.6 145.1,58.3 144.1,55.0 144.4,52.2 146.8,51.4 149.3,49.8 152.6,50.8 156.0,51.0 156.2,54.0 157.0,56.5 155.8,59.0 155.4,61.4 156.5,63.8 156.6,66.2 155.7,69.4 156.0,72.3 153.8,73.8 152.3,75.9 152.2,80.3 151.1,84.4 149.0,86.5 147.5,89.3 145.6,87.5 143.8,86.8 141.2,88.0 139.0,88.1 137.5,91.0 135.3,93.5 132.0,94.6 129.3,96.6 126.0,97.3 123.2,99.0 122.1,101.6 120.2,103.8 117.8,104.3 115.9,105.7 115.9,109.0 114.7,112.3 114.6,116.0 113.5,120.0 114.8,123.0 114.7,126.1 116.2,129.0 116.0,132.1 114.0,135.0 112.9,138.2 115.0,141.0 116.0,144.3 117.4,148.0 117.5,151.6 115.6,154.4 114.7,157.6 115.0,162.0 114.1,166.1 112.2,169.6 111.1,173.4 111.0,176.6 109.9,179.5 111.9,183.0 112.9,186.8 114.4,189.6 114.7,192.8 112.4,191.8 109.9,192.2 106.6,193.7 103.2,194.1 100.4,192.6 97.7,192.8 95.2,189.8 92.3,187.4 91.2,184.4 89.2,181.9 86.3,180.6 83.8,178.3 83.2,175.6 82.0,173.4 81.4,171.4 80.2,170.4 78.6,172.2 77.2,172.8 75.8,171.0 74.1,170.4 71.8,170.6 69.9,171.6 68.6,174.6 66.8,177.1 65.2,180.3 63.2,183.1 60.8,185.3 59.0,188.0 58.8,191.3 57.7,194.1 53.5,194.7 49.8,194.0 46.2,194.3 43.2,193.0 40.7,191.0 39.8,187.0 38.3,183.1 36.0,178.4 34.1,173.4 32.9,169.6 31.0,166.1 30.8,163.0 29.8,160.1 31.8,158.0 33.5,156.4 36.0,154.0 38.9,152.2 42.0,151.6 45.0,150.3 46.2,148.6 48.0,147.3 50.0,147.8 52.3,147.3 55.4,147.4 58.3,146.7 60.2,145.5 61.4,143.7 61.6,141.4 60.8,139.4 58.7,136.6 57.1,133.4 56.9,130.3 56.2,127.3 57.2,123.6 57.5,120.0 58.3,118.4 58.0,115.2 57.1,112.3 55.8,110.2 54.1,108.7 51.0,105.8 48.0,102.6 47.5,100.8 47.7,99.0 49.3,96.7 50.5,94.1 51.4,91.6 52.9,89.5 55.6,89.2 58.3,88.1 57.2,86.4 56.8,84.4 57.3,82.0 57.1,79.6 59.6,77.9 61.7,75.9 61.9,73.4 62.6,71.1 61.2,68.8 60.8,66.2 62.1,64.2 63.8,62.6 67.7,62.9 71.7,62.3 73.7,61.4 75.3,60.1 76.0,57.7" fill="none" stroke="#555" stroke-width="1.2" stroke-linejoin="round"/>
</g>
<text class="lgt" x="42.8" y="223.0" textLength="48.2" lengthAdjust="spacingAndGlyphs">Landuse type</text>
<rect x="42.3" y="226.6" width="9.3" height="5.7" fill="#cbf8ec" stroke="#d7d7d7" stroke-width="0.3"/>
<text class="lg" x="54.8" y="231.9">Natural vegetation</text>
<rect x="42.3" y="235.4" width="9.3" height="5.7" fill="#5fd7b4" stroke="#d7d7d7" stroke-width="0.3"/>
<text class="lg" x="54.8" y="240.7">Secondary vegetation</text>
<rect x="42.3" y="244.2" width="9.3" height="5.7" fill="#eeb362" stroke="#d7d7d7" stroke-width="0.3"/>
<text class="lg" x="54.8" y="249.5">Agriculture</text>
<g font-size="5.6" fill="#111"><text x="88.4" y="253.6">0</text><text x="98.2" y="253.6">10</text><text x="109.3" y="253.6">20 km</text></g>
<rect x="90" y="257.6" width="22.6" height="4.2" fill="#fff" stroke="#111" stroke-width="0.6"/>
<rect x="90" y="257.6" width="11.3" height="4.2" fill="#111"/>
<text class="lgt" x="233.6" y="260.2" textLength="58.8" lengthAdjust="spacingAndGlyphs">Landuse change</text>
<rect x="233.5" y="264.3" width="9.4" height="5.1" fill="#e8363c"/>
<text class="lg" x="245.5" y="268.9">Agricultural expansion</text>
<rect x="233.5" y="273.1" width="9.4" height="5.1" fill="#4fab5b"/>
<text class="lg" x="245.5" y="277.7">Forest restoration</text>
<rect x="233.5" y="281.9" width="9.4" height="5.1" fill="#eeb362"/>
<text class="lg" x="245.5" y="286.5">Existing agriculture</text>
<rect x="233.5" y="290.7" width="9.4" height="5.1" fill="#e2e2e2" stroke="#666" stroke-width="0.6"/>
<text class="lg" x="245.5" y="295.3">No change</text>
<!-- Panel B : scenario matrix -->
<text class="pl" transform="translate(330.3,22.4) scale(1.17,1)">B</text>
<text class="ser" x="502" y="60.2" text-anchor="middle" font-size="11" font-weight="bold" fill="#111">Land management</text>
<text class="ser" transform="translate(333.6,182.4) rotate(-90)" text-anchor="middle" font-size="11" font-weight="bold" fill="#111">Landuse</text>
<g stroke="#111" stroke-width="1.5">
<rect x="404.7" y="113.3" width="41.3" height="30.2" fill="#ee7070"/>
<rect x="404.7" y="143.5" width="41.3" height="38.6" fill="#de882c"/>
<rect x="446.0" y="143.5" width="40.3" height="38.6" fill="#c99b2b"/>
<rect x="486.3" y="143.5" width="40.3" height="38.6" fill="#a9a92c"/>
<rect x="526.6" y="143.5" width="40.2" height="38.6" fill="#8bb92c"/>
<rect x="566.8" y="143.5" width="40.7" height="38.6" fill="#42cc22"/>
<rect x="404.7" y="182.1" width="41.3" height="38.2" fill="#50d878"/>
<rect x="446.0" y="182.1" width="40.3" height="38.2" fill="#5ddaa8"/>
<rect x="486.3" y="182.1" width="40.3" height="38.2" fill="#5dd6c8"/>
<rect x="526.6" y="182.1" width="40.2" height="38.2" fill="#5cc8e8"/>
<rect x="566.8" y="182.1" width="40.7" height="38.2" fill="#56aefa"/>
<rect x="404.7" y="220.3" width="41.3" height="37.6" fill="#8596fb"/>
<rect x="446.0" y="220.3" width="40.3" height="37.6" fill="#cc80f8"/>
<rect x="486.3" y="220.3" width="40.3" height="37.6" fill="#f068f0"/>
<rect x="526.6" y="220.3" width="40.2" height="37.6" fill="#f868e0"/>
<rect x="566.8" y="220.3" width="40.7" height="37.6" fill="#f565a8"/>
</g>
<g class="ser" font-size="10.8" font-style="italic" fill="#111">
<text x="347.6" y="114.9"><tspan font-weight="bold">S0:</tspan></text>
<text x="347.6" y="125.7">Baseline</text>
<text x="347.6" y="148.9"><tspan font-weight="bold">S1:</tspan></text>
<text x="347.6" y="159.7">Maximum</text>
<text x="347.6" y="170.2"><tspan font-weight="bold">a</tspan>gricultural</text>
<text x="347.6" y="180.7">expansion</text>
<text x="347.6" y="203.3"><tspan font-weight="bold">S2:</tspan> Limited</text>
<text x="347.6" y="213.7">agricultural</text>
<text x="347.6" y="223.8">expansion</text>
<text x="347.6" y="244.7"><tspan font-weight="bold">S3:</tspan>Forest</text>
<text x="347.6" y="255.0">restoration</text>
</g>
<g class="ser" font-size="11.1" font-style="italic" fill="#111" text-anchor="middle">
<text transform="translate(418.4,89.0) rotate(-90)"><tspan font-weight="bold">a:</tspan></text>
<text transform="translate(429.2,89.0) rotate(-90)">Rainfed</text>
<text transform="translate(466.2,107.8) rotate(-90)"><tspan font-weight="bold">b:</tspan> Rainfed &amp;</text>
<text transform="translate(476.4,107.8) rotate(-90)">terraced</text>
<text transform="translate(507.8,112.9) rotate(-90)"><tspan font-weight="bold">c:</tspan> Irrigated</text>
<text transform="translate(545.0,108.1) rotate(-90)"><tspan font-weight="bold">d:</tspan> Irrigated &amp;</text>
<text transform="translate(556.0,108.1) rotate(-90)">terraced</text>
<text transform="translate(581.4,87.1) rotate(-90)"><tspan font-weight="bold">e:</tspan> Efficiently irrigated</text>
<text transform="translate(592.0,87.1) rotate(-90)">&amp;</text>
<text transform="translate(601.6,87.1) rotate(-90)">terraced</text>
</g>
<!-- Panel C : crop yield vs firm power -->
<text class="pl" transform="translate(1.9,322.0) scale(1.12,1)">C</text>
<path d="M46.5,328.0 V578.5 H291.6" fill="none" stroke="#333" stroke-width="1"/>
<g stroke="#333" stroke-width="0.7">
<line x1="44.3" y1="340.2" x2="46.5" y2="340.2"/>
<line x1="44.3" y1="394.3" x2="46.5" y2="394.3"/>
<line x1="44.3" y1="448.4" x2="46.5" y2="448.4"/>
<line x1="44.3" y1="502.5" x2="46.5" y2="502.5"/>
<line x1="44.3" y1="556.6" x2="46.5" y2="556.6"/>
<line x1="57.3" y1="578.5" x2="57.3" y2="580.7"/>
<line x1="110.4" y1="578.5" x2="110.4" y2="580.7"/>
<line x1="163.5" y1="578.5" x2="163.5" y2="580.7"/>
<line x1="216.6" y1="578.5" x2="216.6" y2="580.7"/>
<line x1="269.7" y1="578.5" x2="269.7" y2="580.7"/>
</g>
<text class="tick" x="43.6" y="343.2" text-anchor="end">30</text>
<text class="tick" x="43.6" y="397.3" text-anchor="end">20</text>
<text class="tick" x="43.6" y="451.4" text-anchor="end">10</text>
<text class="tick" x="43.6" y="505.5" text-anchor="end">0</text>
<text class="tick" x="43.6" y="559.6" text-anchor="end">-10</text>
<text class="tick" x="57.3" y="588.2" text-anchor="middle">-100</text>
<text class="tick" x="110.4" y="588.2" text-anchor="middle">-75</text>
<text class="tick" x="163.5" y="588.2" text-anchor="middle">-50</text>
<text class="tick" x="216.6" y="588.2" text-anchor="middle">-25</text>
<text class="tick" x="269.7" y="588.2" text-anchor="middle">0</text>
<text class="axt" x="169.4" y="596.9" text-anchor="middle">Change in firm power(%)</text>
<text class="axt" transform="translate(27.6,453.6) rotate(-90)" text-anchor="middle">Change in crop yield(%)</text>
<rect x="49.5" y="329.9" width="73.2" height="62.2" fill="none" stroke="#111" stroke-width="1.8"/>
<rect x="173.7" y="398.1" width="72.2" height="34.2" fill="none" stroke="#111" stroke-width="1.8"/>
<rect x="248.1" y="410.5" width="51.9" height="163.4" fill="none" stroke="#111" stroke-width="1.8"/>
<text class="grp" x="64.4" y="323.2">Irrigated</text>
<text class="grp" x="190" y="372.9">Efficiently</text>
<text class="grp" x="190" y="384.9">irrigated</text>
<text class="grp" x="258.7" y="404.7">Rainfed</text>
<rect x="67.6" y="349.6" width="10.2" height="10.2" fill="#4cc3bd" stroke="#444" stroke-width="0.6"/>
<rect x="68.7" y="350.4" width="10.2" height="10.2" fill="#5cc8e8" stroke="#444" stroke-width="0.6"/>
<polygon points="105.3,336.8 97.9,350.4 112.7,350.4" fill="#f07ce6" stroke="#444" stroke-width="0.6" stroke-linejoin="miter"/>
<polygon points="103.6,339.0 96.2,352.4 111.0,352.4" fill="#f068f0" stroke="#444" stroke-width="0.6" stroke-linejoin="miter"/>
<polygon points="55.1,382.4 70.5,382.4 62.8,396.5" fill="#a9a92c" stroke="#444" stroke-width="0.6" stroke-linejoin="miter"/>
<polygon points="56.0,380.4 71.4,380.4 63.7,393.4" fill="#7aaa2a" stroke="#444" stroke-width="0.6" stroke-linejoin="miter"/>
<polygon points="179.6,415.7 195.2,415.7 187.4,429.3" fill="#42cc22" stroke="#444" stroke-width="0.6" stroke-linejoin="miter"/>
<rect x="210.4" y="408.9" width="10.2" height="10.2" fill="#56aefa" stroke="#444" stroke-width="0.6"/>
<polygon points="229.3,410.2 221.5,423.9 237.1,423.9" fill="#f565a8" stroke="#444" stroke-width="0.6" stroke-linejoin="miter"/>
<polygon points="246.8,430.2 262.4,430.2 254.6,443.9" fill="#de882c" stroke="#444" stroke-width="0.6" stroke-linejoin="miter"/>
<polygon points="249.0,425.6 264.6,425.6 256.8,439.4" fill="#c99b2b" stroke="#444" stroke-width="0.6" stroke-linejoin="miter"/>
<rect x="262.1" y="438.3" width="10.2" height="10.2" fill="#50d878" stroke="#444" stroke-width="0.6"/>
<rect x="262.5" y="434.3" width="10.2" height="10.2" fill="#58d9a0" stroke="#444" stroke-width="0.6"/>
<polygon points="267.6,449.6 259.8,462.6 275.4,462.6" fill="#8596fb" stroke="#444" stroke-width="0.6" stroke-linejoin="miter"/>
<polygon points="267.6,446.6 259.8,459.4 275.4,459.4" fill="#b472f8" stroke="#444" stroke-width="0.6" stroke-linejoin="miter"/>
<rect x="262.5" y="552.1" width="10.2" height="10.2" fill="#ee6464" stroke="#444" stroke-width="0.6"/>
<g stroke="#222" stroke-width="1"><line x1="240.6" y1="447.4" x2="249.8" y2="434.6"/><line x1="242.6" y1="463.0" x2="260.0" y2="446.4"/></g>
<text class="lab" x="58.3" y="348.6">S2-c</text>
<text class="lab" x="81.8" y="341.7">S3-c</text>
<text class="lab" x="92.8" y="361.3">S3-d</text>
<text class="lab" x="77.2" y="370.3">S2-c</text>
<text class="lab" x="55.0" y="377.4">S1-d</text>
<text class="lab" x="51.9" y="406.6">S1-c</text>
<text class="lab" x="176.4" y="411.6">S1-e</text>
<text class="lab" x="207.6" y="407.4">S2-e</text>
<text class="lab" x="218.0" y="431.0">S3-e</text>
<text class="lab" x="250.6" y="420.6">S1-b</text>
<text class="lab" x="274.6" y="435.6">S2-b</text>
<text class="lab" x="273.6" y="455.0">S3-b</text>
<text class="lab" x="217.4" y="450.6">S1-a</text>
<text class="lab" x="220.8" y="466.4">S2-a</text>
<text class="lab" x="255.4" y="472.4">S3-a</text>
<text class="lab" x="275.4" y="560.2">S0</text>
<g stroke="#222" stroke-width="0.8" stroke-dasharray="2.1,2.1" fill="none"><line x1="46.5" y1="502.5" x2="291.6" y2="502.5"/><line x1="269.7" y1="328.0" x2="269.7" y2="578.5"/></g>
<!-- Panel D : total production vs firm power -->
<text class="pl" transform="translate(330.6,322.2) scale(1.12,1)">D</text>
<path d="M371.5,329.0 V579.5 H615.4" fill="none" stroke="#333" stroke-width="1"/>
<g stroke="#333" stroke-width="0.7">
<line x1="369.3" y1="341.1" x2="371.5" y2="341.1"/>
<line x1="369.3" y1="406.9" x2="371.5" y2="406.9"/>
<line x1="369.3" y1="472.7" x2="371.5" y2="472.7"/>
<line x1="369.3" y1="538.5" x2="371.5" y2="538.5"/>
<line x1="382.7" y1="579.5" x2="382.7" y2="581.7"/>
<line x1="435.4" y1="579.5" x2="435.4" y2="581.7"/>
<line x1="488.1" y1="579.5" x2="488.1" y2="581.7"/>
<line x1="540.8" y1="579.5" x2="540.8" y2="581.7"/>
<line x1="593.5" y1="579.5" x2="593.5" y2="581.7"/>
</g>
<text class="tick" x="368.6" y="344.1" text-anchor="end">300</text>
<text class="tick" x="368.6" y="409.9" text-anchor="end">200</text>
<text class="tick" x="368.6" y="475.7" text-anchor="end">100</text>
<text class="tick" x="368.6" y="541.5" text-anchor="end">0</text>
<text class="tick" x="382.7" y="589.0" text-anchor="middle">-100</text>
<text class="tick" x="435.4" y="589.0" text-anchor="middle">-75</text>
<text class="tick" x="488.1" y="589.0" text-anchor="middle">-50</text>
<text class="tick" x="540.8" y="589.0" text-anchor="middle">-25</text>
<text class="tick" x="593.5" y="589.0" text-anchor="middle">0</text>
<text class="axt" x="493.8" y="596.9" text-anchor="middle">Change in firm power(%)</text>
<text class="axt" transform="translate(350.8,453.8) rotate(-90)" text-anchor="middle">Change in total production(%)</text>
<rect x="364.6" y="331.3" width="258.9" height="38.7" fill="none" stroke="#e6323f" stroke-width="1.4" stroke-dasharray="4.5,2"/>
<rect x="362.0" y="505.0" width="259.6" height="26.5" fill="none" stroke="#e6323f" stroke-width="1.4" stroke-dasharray="4.5,2"/>
<rect x="364.6" y="537.1" width="259.0" height="33.3" fill="none" stroke="#e6323f" stroke-width="1.4" stroke-dasharray="4.5,2"/>
<rect x="373.8" y="330.8" width="80.2" height="235.5" fill="none" stroke="#111" stroke-width="1.9"/>
<rect x="496.1" y="342.1" width="67.5" height="230.5" fill="none" stroke="#111" stroke-width="1.9"/>
<rect x="569.4" y="346.6" width="49.9" height="227.3" fill="none" stroke="#111" stroke-width="1.9"/>
<text class="grp" x="383.6" y="322.2">Irrigated</text>
<text class="grp" x="506.3" y="306.8">Efficiently</text>
<text class="grp" x="506.3" y="318.2">irrigated</text>
<text class="grp" x="587.2" y="323.4">Rainfed</text>
<text class="grp" x="631.4" y="339.0">Maximum</text>
<text class="grp" x="631.4" y="350.4">agricultural</text>
<text class="grp" x="631.4" y="361.6">expansion</text>
<text class="grp" x="631.4" y="509.4">Limited</text>
<text class="grp" x="631.4" y="520.6">agricultural</text>
<text class="grp" x="631.4" y="531.8">expansion</text>
<text class="grp" x="629.8" y="554.4">Forest</text>
<text class="grp" x="629.8" y="566.4">restoration</text>
<polygon points="379.6,346.8 396.0,346.8 387.8,361.8" fill="#a9a92c" stroke="#444" stroke-width="0.6" stroke-linejoin="miter"/>
<polygon points="380.3,346.5 396.7,346.5 388.5,361.4" fill="#7aaa2a" stroke="#444" stroke-width="0.6" stroke-linejoin="miter"/>
<polygon points="503.4,359.9 519.6,359.9 511.5,373.9" fill="#42cc22" stroke="#444" stroke-width="0.6" stroke-linejoin="miter"/>
<polygon points="570.2,365.0 586.4,365.0 578.3,379.4" fill="#de882c" stroke="#444" stroke-width="0.6" stroke-linejoin="miter"/>
<polygon points="571.6,363.5 588.4,363.5 580.0,377.2" fill="#c99b2b" stroke="#444" stroke-width="0.6" stroke-linejoin="miter"/>
<rect x="392.9" y="510.2" width="10.6" height="10.6" fill="#4cc3bd" stroke="#444" stroke-width="0.6"/>
<rect x="393.7" y="510.9" width="10.6" height="10.6" fill="#5cc8e8" stroke="#444" stroke-width="0.6"/>
<polygon points="430.2,537.6 422.0,552.2 438.4,552.2" fill="#f868e0" stroke="#444" stroke-width="0.6" stroke-linejoin="miter"/>
<polygon points="429.6,537.0 421.4,551.7 437.8,551.7" fill="#f068f0" stroke="#444" stroke-width="0.6" stroke-linejoin="miter"/>
<rect x="534.5" y="518.9" width="10.2" height="10.2" fill="#56aefa" stroke="#444" stroke-width="0.6"/>
<polygon points="553.4,543.2 545.3,557.9 561.5,557.9" fill="#f565a8" stroke="#444" stroke-width="0.6" stroke-linejoin="miter"/>
<rect x="585.5" y="522.4" width="10.6" height="10.6" fill="#50d878" stroke="#444" stroke-width="0.6"/>
<rect x="585.7" y="521.7" width="10.6" height="10.6" fill="#58d9a0" stroke="#444" stroke-width="0.6"/>
<rect x="585.7" y="540.0" width="10.4" height="10.4" fill="#ee6464" stroke="#444" stroke-width="0.6"/>
<polygon points="591.2,547.4 583.4,560.4 599.0,560.4" fill="#8596fb" stroke="#444" stroke-width="0.6" stroke-linejoin="miter"/>
<polygon points="591.2,546.8 583.4,559.7 599.0,559.7" fill="#b472f8" stroke="#444" stroke-width="0.6" stroke-linejoin="miter"/>
<text class="lab" x="381.0" y="341.2">S1-d</text>
<text class="lab" x="391.6" y="363.0">S1-c</text>
<text class="lab" x="503.0" y="353.0">S1-e</text>
<text class="lab" x="571.3" y="357.8">S1-b</text>
<text class="lab" x="571.3" y="390.7">S1-a</text>
<text class="lab" x="406.5" y="515.0">S2-c</text>
<text class="lab" x="391.9" y="529.0">S2-d</text>
<text class="lab" x="399.0" y="545.8">S2-c</text>
<text class="lab" x="427.5" y="561.8">S2-d</text>
<text class="lab" x="525.8" y="513.3">S2-e</text>
<text class="lab" x="520.4" y="554.3">S3-e</text>
<text class="lab" x="569.8" y="517.5">S2-a</text>
<text class="lab" x="596.1" y="517.5">S1-b</text>
<text class="lab" x="600.3" y="548.9">S0</text>
<text class="lab" x="596.7" y="558.8">S3-b</text>
<text class="lab" x="582.4" y="568.7">S3-a</text>
<g stroke="#222" stroke-width="0.8" stroke-dasharray="2.1,2.1" fill="none"><line x1="371.5" y1="538.5" x2="615.4" y2="538.5"/><line x1="593.5" y1="329.0" x2="593.5" y2="579.5"/></g>
<!-- shared legend -->
<g style="stroke:#111;stroke-width:.2px">
<text class="leg" x="119.0" y="617.3">Change in natural vegetation area</text>
<text class="leg" x="276.2" y="617.3">Increase</text>
<text class="leg" x="332.8" y="617.3">No change</text>
<text class="leg" x="399.0" y="617.3">Decrease</text>
</g>
<polygon points="264.5,605.1 256.1,618.5 272.9,618.5" fill="#fff" stroke="#333" stroke-width="0.7"/>
<rect x="316.8" y="608.9" width="10" height="10.5" fill="#fff" stroke="#333" stroke-width="0.8"/>
<polygon points="379.5,609.4 395.8,609.4 387.7,622.8" fill="#fff" stroke="#333" stroke-width="0.7"/>
<line x1="445.3" y1="615.2" x2="475.4" y2="615.2" stroke="#333" stroke-width="0.8" stroke-dasharray="2,1.7"/>
<g style="stroke:#000;stroke-width:.45px" font-size="7.4" font-weight="bold" fill="#000">
<text x="485.4" y="615.5" textLength="41.8" lengthAdjust="spacingAndGlyphs">1985-2014</text>
<text x="485.4" y="624.5" textLength="28.8" lengthAdjust="spacingAndGlyphs">Median</text>
</g>
</svg>
</body>
</html>
